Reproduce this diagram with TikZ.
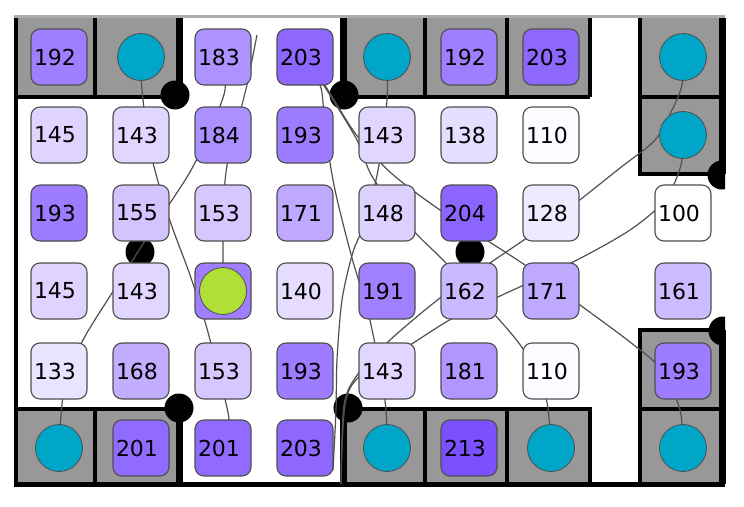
\documentclass[tikz,border=0pt]{standalone}
\usepackage{fontspec}
\newfontfamily\cellfont{DejaVu Sans}
\usetikzlibrary{positioning}

\definecolor{vio}{RGB}{110,60,255}
\definecolor{floorgray}{RGB}{152,152,152}
\definecolor{rimgray}{RGB}{172,172,172}
\definecolor{edgegray}{RGB}{78,78,78}
\definecolor{trailgray}{RGB}{80,80,80}
\definecolor{goalcyan}{RGB}{0,166,199}
\definecolor{agentlime}{RGB}{176,224,56}

\pgfdeclarelayer{floor}
\pgfdeclarelayer{trails}
\pgfsetlayers{floor,trails,main}

\tikzset{
  lvl/.code={\pgfmathtruncatemacro\lvlpct{90*((#1-100)/113)*sqrt((#1-100)/113)}%
    \edef\lvltmp{\noexpand\tikzset{fill=vio!\lvlpct!white}}\lvltmp},
  cell/.style={draw=edgegray, line width=1.1pt, rounded corners=9pt, minimum size=56pt,
    inner sep=0pt, text width=50pt, align=left, font=\cellfont\fontsize{22}{24}\selectfont},
  goal/.style={circle, draw=edgegray, line width=0.8pt, fill=goalcyan, minimum size=47pt, inner sep=0pt},
  agent/.style={goal, fill=agentlime},
  trail/.style={draw=trailgray, line width=1.2pt},
  rim/.style={line width=4pt},
  wall/.style={line width=7pt},
}

\begin{document}
\begin{tikzpicture}[x=1pt, y=-1pt]
    \useasboundingbox (0,0) rectangle (744,506);

    % Row 1
    \node[cell, lvl=192] (a1) at (59,57) {192};
    \node[goal] (b1) at (141,57) {};
    \node[cell, lvl=183] (c1) at (223,57) {183};
    \node[cell, lvl=203] (d1) at (305,57) {203};
    \node[goal] (e1) at (387,57) {};
    \node[cell, lvl=192] (f1) at (469,57) {192};
    \node[cell, lvl=203] (g1) at (551,57) {203};
    \node[goal] (h1) at (683,57) {};

    % Row 2
    \node[cell, lvl=145] (a2) at (59,135) {145};
    \node[cell, lvl=143] (b2) at (141,135) {143};
    \node[cell, lvl=184] (c2) at (223,135) {184};
    \node[cell, lvl=193] (d2) at (305,135) {193};
    \node[cell, lvl=143] (e2) at (387,135) {143};
    \node[cell, lvl=138] (f2) at (469,135) {138};
    \node[cell, lvl=110] (g2) at (551,135) {110};
    \node[goal] (h2) at (683,135) {};

    % Row 3
    \node[cell, lvl=193] (a3) at (59,213) {193};
    \node[cell, lvl=155] (b3) at (141,213) {155};
    \node[cell, lvl=153] (c3) at (223,213) {153};
    \node[cell, lvl=171] (d3) at (305,213) {171};
    \node[cell, lvl=148] (e3) at (387,213) {148};
    \node[cell, lvl=204] (f3) at (469,213) {204};
    \node[cell, lvl=128] (g3) at (551,213) {128};
    \node[cell, fill=white] (h3) at (683,213) {100};

    % Row 4
    \node[cell, lvl=145] (a4) at (59,291) {145};
    \node[cell, lvl=143] (b4) at (141,291) {143};
    \node[cell, lvl=192] (c4) at (223,291) {};
    \node[agent] (bot) at (c4) {};
    \node[cell, lvl=140] (d4) at (305,291) {140};
    \node[cell, lvl=191] (e4) at (387,291) {191};
    \node[cell, lvl=162] (f4) at (469,291) {162};
    \node[cell, lvl=171] (g4) at (551,291) {171};
    \node[cell, lvl=161] (h4) at (683,291) {161};

    % Row 5
    \node[cell, lvl=133] (a5) at (59,371) {133};
    \node[cell, lvl=168] (b5) at (141,371) {168};
    \node[cell, lvl=153] (c5) at (223,371) {153};
    \node[cell, lvl=193] (d5) at (305,371) {193};
    \node[cell, lvl=143] (e5) at (387,371) {143};
    \node[cell, lvl=181] (f5) at (469,371) {181};
    \node[cell, lvl=110] (g5) at (551,371) {110};
    \node[cell, lvl=193] (h5) at (683,371) {193};

    % Row 6
    \node[goal] (a6) at (59,448) {};
    \node[cell, lvl=201] (b6) at (141,448) {201};
    \node[cell, lvl=201] (c6) at (223,448) {201};
    \node[cell, lvl=203] (d6) at (305,448) {203};
    \node[goal] (e6) at (387,448) {};
    \node[cell, lvl=213] (f6) at (469,448) {213};
    \node[goal] (g6) at (551,448) {};
    \node[goal] (h6) at (683,448) {};

    % Free ends of trails
    \coordinate (t3) at (257,35);
    \coordinate (t6) at (333,470);
    \coordinate (exit) at (341,484);

    % Floor, walls and posts
    \begin{pgfonlayer}{floor}
        \fill[floorgray] (15,18) rectangle (179,97) (343,18) rectangle (590,97) (640,18) rectangle (722,174)
            (15,409) rectangle (179,484) (343,409) rectangle (590,484) (640,330) rectangle (722,484);
        \draw[rim] (95,18) -- (95,97) (15,97) -- (179,97) (425,18) -- (425,97) (507,18) -- (507,97)
            (590,18) -- (590,97) (343,97) -- (590,97) (640,18) -- (640,174) -- (722,174) (640,97) -- (722,97)
            (15,409) -- (179,409) (95,409) -- (95,484) (343,409) -- (590,409) -- (590,484)
            (425,409) -- (425,484) (507,409) -- (507,484) (640,484) -- (640,330) -- (722,330) (640,409) -- (722,409);
        \draw[wall] (179,18) -- (179,97) (343,18) -- (343,97) (722,18) -- (722,174)
            (179,409) -- (179,484) (343,409) -- (343,484) (722,330) -- (722,484);
        \draw[rim] (16,18) -- (16,484);
        \draw[line width=5pt] (14,484) -- (725,484);
        \draw[rimgray, line width=3pt] (14,16.5) -- (725,16.5);
        \begin{scope}
            \clip (0,0) rectangle (725,506);
            \foreach \px/\py in {175/95, 344/95, 140/252, 470/252, 179/408, 348/408, 722/175, 723/331}
                \fill (\px,\py) circle[radius=14.5pt];
        \end{scope}
    \end{pgfonlayer}

    % Trails
    \begin{pgfonlayer}{trails}
        \draw[trail] plot[smooth] coordinates {(b1.center) (142,90) (150,150) (168,215) (190,275) (206,325) (220,380) (229,420) (c6.center)};
        \draw[trail] plot[smooth] coordinates {(c1.center) (225,90) (212,125) (190,172) (150,233) (112,293) (82,342) (64,390) (a6.center)};
        \draw[trail] plot[smooth] coordinates {(t3) (247,85) (242,105) (228,160) (224,195) (223,240) (bot.center)};
        \draw[trail] plot[smooth] coordinates {(d1.center) (321,88) (325,130) (335,190) (352,258) (368,312) (380,370) (386,410) (e6.center)};
        \draw[trail] plot[smooth] coordinates {(e1.center) (387,100) (379,165) (366,220) (353,252) (342,300) (337,360) (336,410) (t6)};
        \draw[trail] plot[smooth] coordinates {(h1.center) (682,85) (672,110) (655,140) (620,168) (560,215) (490,263) (440,298) (390,340) (358,374) (344,405) (exit)};
        \draw[trail] plot[smooth] coordinates {(h2.center) (681,165) (665,200) (630,230) (573,262) (500,296) (453,318) (410,345) (360,376) (345,405) (exit)};
        \draw[trail] plot[smooth] coordinates {(d1.center) (328,90) (355,133) (390,172) (440,210) (525,265) (580,305) (630,342) (662,370) (680,410) (h6.center)};
        \draw[trail] plot[smooth] coordinates {(d1.center) (328,92) (357,140) (373,178) (413,230) (443,260) (495,315) (525,352) (546,398) (g6.center)};
    \end{pgfonlayer}
\end{tikzpicture}
\end{document}
